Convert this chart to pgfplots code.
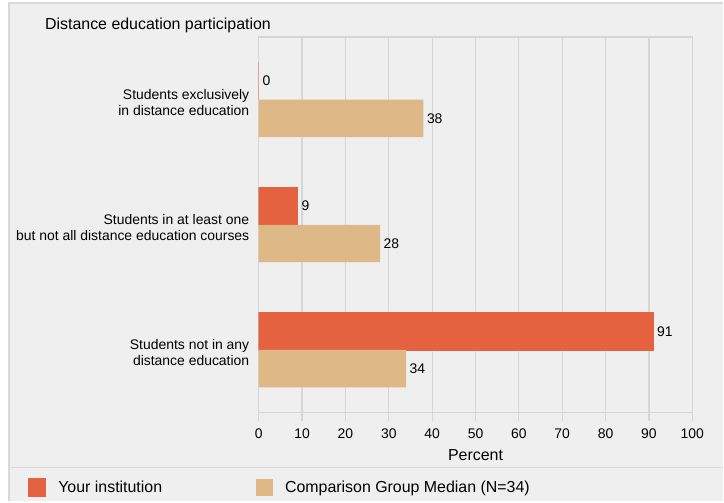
\documentclass[border=0pt]{standalone}
\usepackage{pgfplots}
\pgfplotsset{compat=1.18}
\usepackage{fontspec}
\setmainfont{Liberation Sans}
\definecolor{bg}{RGB}{239,239,239}
\definecolor{gridc}{RGB}{214,214,214}
\definecolor{redc}{RGB}{228,98,64}
\definecolor{tanc}{RGB}{223,184,135}
\definecolor{bordc}{RGB}{217,217,217}
\pgfdeclarelayer{pagebg}
\pgfdeclarelayer{axis background}
\pgfdeclarelayer{axis grid}
\pgfdeclarelayer{axis ticks}
\pgfdeclarelayer{axis lines}
\pgfdeclarelayer{axis tick labels}
\pgfdeclarelayer{pre main}
\pgfdeclarelayer{axis descriptions}
\pgfdeclarelayer{axis foreground}
\pgfplotsset{layers/mylayers/.define layer set={pagebg,axis background,axis grid,axis ticks,axis lines,axis tick labels,pre main,main,axis descriptions,axis foreground}{}}
\begin{document}
\begin{tikzpicture}
\pgfsetlayers{pagebg,axis background,axis grid,axis ticks,axis lines,axis tick labels,pre main,main,axis descriptions,axis foreground}
\begin{pgfonlayer}{pagebg}
\fill[white] (0bp,0bp) rectangle (724bp,-502bp);
\fill[bg] (9bp,-3bp) rectangle (724bp,-502bp);
\draw[bordc, line width=1.5bp] (9bp,-502bp) -- (9bp,-3bp) -- (724bp,-3bp);
\draw[bordc, line width=1.2bp] (9bp,-468bp) -- (724bp,-468bp);
\end{pgfonlayer}
\node[anchor=base west, inner sep=0pt, font=\fontsize{16}{18}\selectfont] at (45bp,-29.5bp) {Distance education participation};
\begin{axis}[
  set layers=mylayers,
  at={(259bp,-413bp)}, anchor=south west, scale only axis,
  width=434bp, height=376bp,
  xmin=0, xmax=100, ymin=0, ymax=3,
  xtick={0,10,...,100}, ytick={0.5,1.5,2.5},
  yticklabels={{Students not in any\\distance education},{Students in at least one\\but not all distance education courses},{Students exclusively\\in distance education}},
  axis line style={gridc, line width=1.2bp},
  xmajorgrids, grid style={gridc, line width=1.2bp},
  tick align=outside, xtick pos=lower, ytick pos=left,
  major tick length=8bp,
  xtick style={gridc, line width=1.2bp}, ytick style={draw=none},
  /pgf/number format/assume math mode=true,
  xticklabel style={font=\fontsize{14}{16}\selectfont, text=black, yshift=-4.5bp},
  yticklabel style={font=\fontsize{14}{16}\selectfont, text=black, align=right, xshift=2bp, yshift=-3bp},
  xlabel={Percent},
  xlabel style={font=\fontsize{16}{18}\selectfont, yshift=-4bp},
  xbar, bar width=37.5bp,
  nodes near coords,
  nodes near coords style={font=\fontsize{14}{16}\selectfont, text=black, anchor=west},
  legend columns=2,
  legend image code/.code={\fill[#1] (0bp,-8.5bp) rectangle (17bp,8.5bp);},
  legend style={at={(-0.5323,-0.1995)}, anchor=west, draw=none, fill=none, inner sep=0pt,
    font=\fontsize{16}{18}\selectfont,
    /tikz/every odd column/.append style={column sep=10bp},
    /tikz/every even column/.append style={column sep=92bp}},
]
\addplot+[bar shift=18.75bp, fill=redc, draw=redc, line width=1.2bp,
  legend image code/.code={\fill[redc] (0bp,-8.5bp) rectangle (17bp,8.5bp);}]
  coordinates {(91,0.5) (9,1.5) (0,2.5)};
\addplot+[bar shift=-18.75bp, fill=tanc, draw=none,
  legend image code/.code={\fill[tanc] (0bp,-8.5bp) rectangle (17bp,8.5bp);}]
  coordinates {(34,0.5) (28,1.5) (38,2.5)};
\legend{Your institution, Comparison Group Median (N=34)}
\end{axis}
\end{tikzpicture}
\end{document}
